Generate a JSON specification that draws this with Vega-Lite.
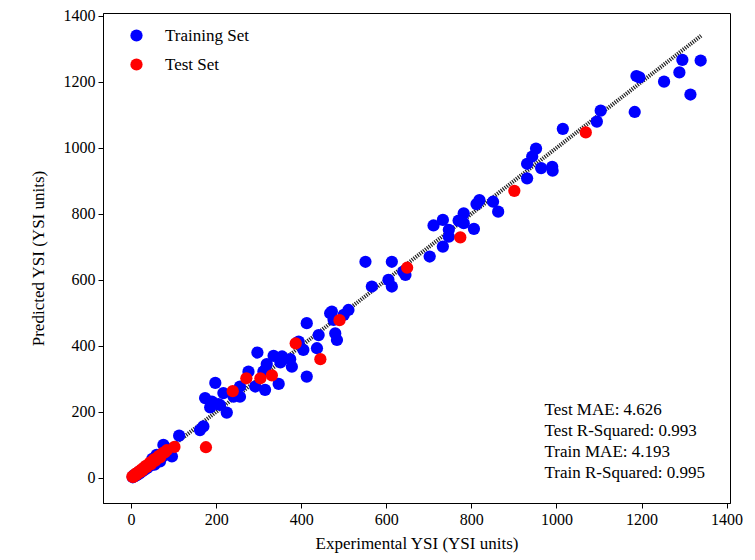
{
  "$schema": "https://vega.github.io/schema/vega-lite/v6.json",
  "width": 627,
  "height": 490,
  "autosize": {"type": "none"},
  "padding": {"left": 103, "top": 13, "right": 25, "bottom": 57},
  "background": "white",
  "config": {
    "view": {"stroke": "black", "strokeWidth": 1},
    "axis": {
      "labelFont": "Liberation Serif", "labelFontSize": 16, "labelColor": "black",
      "titleFont": "Liberation Serif", "titleFontSize": 17, "titleFontWeight": "normal", "titleColor": "black",
      "grid": false, "tickColor": "black", "domainColor": "black", "tickSize": 5, "labelPadding": 3, "format": "d"
    },
    "legend": {"labelFont": "Liberation Serif", "labelFontSize": 17, "labelColor": "black"}
  },
  "datasets": {
    "line": [{"exp": 5, "pred": 5}, {"exp": 1340, "pred": 1340}],
    "pts": [
      {"exp": 1339, "pred": 1265, "set": "Training Set"},
      {"exp": 1296, "pred": 1267, "set": "Training Set"},
      {"exp": 1289, "pred": 1229, "set": "Training Set"},
      {"exp": 1315, "pred": 1162, "set": "Training Set"},
      {"exp": 1253, "pred": 1201, "set": "Training Set"},
      {"exp": 1195, "pred": 1214, "set": "Training Set"},
      {"exp": 1188, "pred": 1218, "set": "Training Set"},
      {"exp": 1184, "pred": 1109, "set": "Training Set"},
      {"exp": 1104, "pred": 1113, "set": "Training Set"},
      {"exp": 1095, "pred": 1080, "set": "Training Set"},
      {"exp": 1015, "pred": 1058, "set": "Training Set"},
      {"exp": 952, "pred": 998, "set": "Training Set"},
      {"exp": 943, "pred": 974, "set": "Training Set"},
      {"exp": 931, "pred": 952, "set": "Training Set"},
      {"exp": 964, "pred": 939, "set": "Training Set"},
      {"exp": 990, "pred": 943, "set": "Training Set"},
      {"exp": 991, "pred": 931, "set": "Training Set"},
      {"exp": 931, "pred": 908, "set": "Training Set"},
      {"exp": 819, "pred": 842, "set": "Training Set"},
      {"exp": 812, "pred": 830, "set": "Training Set"},
      {"exp": 851, "pred": 837, "set": "Training Set"},
      {"exp": 863, "pred": 807, "set": "Training Set"},
      {"exp": 782, "pred": 802, "set": "Training Set"},
      {"exp": 770, "pred": 780, "set": "Training Set"},
      {"exp": 806, "pred": 755, "set": "Training Set"},
      {"exp": 782, "pred": 772, "set": "Training Set"},
      {"exp": 733, "pred": 782, "set": "Training Set"},
      {"exp": 711, "pred": 765, "set": "Training Set"},
      {"exp": 747, "pred": 752, "set": "Training Set"},
      {"exp": 747, "pred": 731, "set": "Training Set"},
      {"exp": 733, "pred": 701, "set": "Training Set"},
      {"exp": 702, "pred": 671, "set": "Training Set"},
      {"exp": 551, "pred": 655, "set": "Training Set"},
      {"exp": 613, "pred": 655, "set": "Training Set"},
      {"exp": 645, "pred": 615, "set": "Training Set"},
      {"exp": 640, "pred": 625, "set": "Training Set"},
      {"exp": 605, "pred": 600, "set": "Training Set"},
      {"exp": 613, "pred": 580, "set": "Training Set"},
      {"exp": 566, "pred": 580, "set": "Training Set"},
      {"exp": 472, "pred": 504, "set": "Training Set"},
      {"exp": 511, "pred": 509, "set": "Training Set"},
      {"exp": 500, "pred": 494, "set": "Training Set"},
      {"exp": 468, "pred": 499, "set": "Training Set"},
      {"exp": 476, "pred": 479, "set": "Training Set"},
      {"exp": 413, "pred": 469, "set": "Training Set"},
      {"exp": 441, "pred": 433, "set": "Training Set"},
      {"exp": 484, "pred": 418, "set": "Training Set"},
      {"exp": 480, "pred": 438, "set": "Training Set"},
      {"exp": 394, "pred": 413, "set": "Training Set"},
      {"exp": 405, "pred": 388, "set": "Training Set"},
      {"exp": 437, "pred": 393, "set": "Training Set"},
      {"exp": 413, "pred": 307, "set": "Training Set"},
      {"exp": 297, "pred": 380, "set": "Training Set"},
      {"exp": 335, "pred": 370, "set": "Training Set"},
      {"exp": 355, "pred": 368, "set": "Training Set"},
      {"exp": 374, "pred": 360, "set": "Training Set"},
      {"exp": 351, "pred": 350, "set": "Training Set"},
      {"exp": 378, "pred": 337, "set": "Training Set"},
      {"exp": 319, "pred": 345, "set": "Training Set"},
      {"exp": 311, "pred": 322, "set": "Training Set"},
      {"exp": 315, "pred": 327, "set": "Training Set"},
      {"exp": 347, "pred": 285, "set": "Training Set"},
      {"exp": 276, "pred": 322, "set": "Training Set"},
      {"exp": 292, "pred": 277, "set": "Training Set"},
      {"exp": 256, "pred": 246, "set": "Training Set"},
      {"exp": 256, "pred": 277, "set": "Training Set"},
      {"exp": 198, "pred": 288, "set": "Training Set"},
      {"exp": 217, "pred": 257, "set": "Training Set"},
      {"exp": 174, "pred": 242, "set": "Training Set"},
      {"exp": 186, "pred": 214, "set": "Training Set"},
      {"exp": 225, "pred": 198, "set": "Training Set"},
      {"exp": 205, "pred": 224, "set": "Training Set"},
      {"exp": 190, "pred": 231, "set": "Training Set"},
      {"exp": 209, "pred": 221, "set": "Training Set"},
      {"exp": 241, "pred": 246, "set": "Training Set"},
      {"exp": 315, "pred": 267, "set": "Training Set"},
      {"exp": 162, "pred": 145, "set": "Training Set"},
      {"exp": 170, "pred": 156, "set": "Training Set"},
      {"exp": 113, "pred": 128, "set": "Training Set"},
      {"exp": 76, "pred": 100, "set": "Training Set"},
      {"exp": 96, "pred": 65, "set": "Training Set"},
      {"exp": 4, "pred": 2, "set": "Training Set"},
      {"exp": 6, "pred": 8, "set": "Training Set"},
      {"exp": 9, "pred": 5, "set": "Training Set"},
      {"exp": 12, "pred": 12, "set": "Training Set"},
      {"exp": 14, "pred": 9, "set": "Training Set"},
      {"exp": 17, "pred": 17, "set": "Training Set"},
      {"exp": 20, "pred": 14, "set": "Training Set"},
      {"exp": 23, "pred": 22, "set": "Training Set"},
      {"exp": 26, "pred": 20, "set": "Training Set"},
      {"exp": 29, "pred": 27, "set": "Training Set"},
      {"exp": 32, "pred": 25, "set": "Training Set"},
      {"exp": 35, "pred": 33, "set": "Training Set"},
      {"exp": 38, "pred": 30, "set": "Training Set"},
      {"exp": 42, "pred": 40, "set": "Training Set"},
      {"exp": 45, "pred": 37, "set": "Training Set"},
      {"exp": 48, "pred": 46, "set": "Training Set"},
      {"exp": 52, "pred": 43, "set": "Training Set"},
      {"exp": 55, "pred": 53, "set": "Training Set"},
      {"exp": 58, "pred": 50, "set": "Training Set"},
      {"exp": 62, "pred": 60, "set": "Training Set"},
      {"exp": 66, "pred": 57, "set": "Training Set"},
      {"exp": 70, "pred": 68, "set": "Training Set"},
      {"exp": 74, "pred": 65, "set": "Training Set"},
      {"exp": 78, "pred": 78, "set": "Training Set"},
      {"exp": 82, "pred": 72, "set": "Training Set"},
      {"exp": 88, "pred": 86, "set": "Training Set"},
      {"exp": 92, "pred": 80, "set": "Training Set"},
      {"exp": 68, "pred": 50, "set": "Training Set"},
      {"exp": 55, "pred": 40, "set": "Training Set"},
      {"exp": 80, "pred": 92, "set": "Training Set"},
      {"exp": 60, "pred": 70, "set": "Training Set"},
      {"exp": 50, "pred": 58, "set": "Training Set"},
      {"exp": 1069, "pred": 1047, "set": "Test Set"},
      {"exp": 901, "pred": 870, "set": "Test Set"},
      {"exp": 774, "pred": 729, "set": "Test Set"},
      {"exp": 649, "pred": 637, "set": "Test Set"},
      {"exp": 490, "pred": 478, "set": "Test Set"},
      {"exp": 387, "pred": 408, "set": "Test Set"},
      {"exp": 445, "pred": 360, "set": "Test Set"},
      {"exp": 331, "pred": 311, "set": "Test Set"},
      {"exp": 304, "pred": 302, "set": "Test Set"},
      {"exp": 271, "pred": 302, "set": "Test Set"},
      {"exp": 239, "pred": 263, "set": "Test Set"},
      {"exp": 176, "pred": 93, "set": "Test Set"},
      {"exp": 102, "pred": 94, "set": "Test Set"},
      {"exp": 3, "pred": 4, "set": "Test Set"},
      {"exp": 5, "pred": 3, "set": "Test Set"},
      {"exp": 8, "pred": 8, "set": "Test Set"},
      {"exp": 10, "pred": 12, "set": "Test Set"},
      {"exp": 13, "pred": 10, "set": "Test Set"},
      {"exp": 16, "pred": 16, "set": "Test Set"},
      {"exp": 19, "pred": 20, "set": "Test Set"},
      {"exp": 22, "pred": 18, "set": "Test Set"},
      {"exp": 25, "pred": 26, "set": "Test Set"},
      {"exp": 28, "pred": 24, "set": "Test Set"},
      {"exp": 31, "pred": 31, "set": "Test Set"},
      {"exp": 34, "pred": 36, "set": "Test Set"},
      {"exp": 37, "pred": 33, "set": "Test Set"},
      {"exp": 40, "pred": 40, "set": "Test Set"},
      {"exp": 44, "pred": 46, "set": "Test Set"},
      {"exp": 47, "pred": 42, "set": "Test Set"},
      {"exp": 50, "pred": 50, "set": "Test Set"},
      {"exp": 54, "pred": 56, "set": "Test Set"},
      {"exp": 57, "pred": 52, "set": "Test Set"},
      {"exp": 61, "pred": 60, "set": "Test Set"},
      {"exp": 65, "pred": 66, "set": "Test Set"},
      {"exp": 68, "pred": 62, "set": "Test Set"},
      {"exp": 72, "pred": 72, "set": "Test Set"},
      {"exp": 76, "pred": 76, "set": "Test Set"},
      {"exp": 80, "pred": 79, "set": "Test Set"},
      {"exp": 84, "pred": 84, "set": "Test Set"}
    ],
    "notes": [
      {"exp": 972, "pred": 206, "label": "Test MAE: 4.626"},
      {"exp": 972, "pred": 142, "label": "Test R-Squared: 0.993"},
      {"exp": 972, "pred": 79, "label": "Train MAE: 4.193"},
      {"exp": 972, "pred": 15, "label": "Train R-Squared: 0.995"}
    ]
  },
  "layer": [
    {
      "data": {"name": "line"},
      "mark": {"type": "line", "color": "#222222", "strokeWidth": 4, "strokeDash": [1.2, 1.2]},
      "encoding": {
        "x": {"field": "exp", "type": "quantitative", "scale": {"domain": [-66, 1408], "nice": false, "zero": false},
              "axis": {"values": [0, 200, 400, 600, 800, 1000, 1200, 1400], "title": "Experimental YSI (YSI units)", "titlePadding": 8}},
        "y": {"field": "pred", "type": "quantitative", "scale": {"domain": [-76, 1409], "nice": false, "zero": false},
              "axis": {"values": [0, 200, 400, 600, 800, 1000, 1200, 1400], "title": "Predicted YSI (YSI units)", "titlePadding": 16}}
      }
    },
    {
      "data": {"name": "pts"},
      "mark": {"type": "circle", "size": 150, "opacity": 1},
      "encoding": {
        "x": {"field": "exp", "type": "quantitative"},
        "y": {"field": "pred", "type": "quantitative"},
        "color": {"field": "set", "type": "nominal",
                  "scale": {"domain": ["Training Set", "Test Set"], "range": ["#0000ff", "#ff0000"]},
                  "legend": {"title": null, "orient": "none", "legendX": 25, "legendY": 14, "symbolType": "circle", "symbolSize": 150, "symbolOpacity": 1, "labelOffset": 20, "rowPadding": 11, "padding": 0}}
      }
    },
    {
      "data": {"name": "notes"},
      "mark": {"type": "text", "align": "left", "baseline": "middle", "font": "Liberation Serif", "fontSize": 17, "color": "black"},
      "encoding": {
        "x": {"field": "exp", "type": "quantitative"},
        "y": {"field": "pred", "type": "quantitative"},
        "text": {"field": "label"}
      }
    }
  ]
}
